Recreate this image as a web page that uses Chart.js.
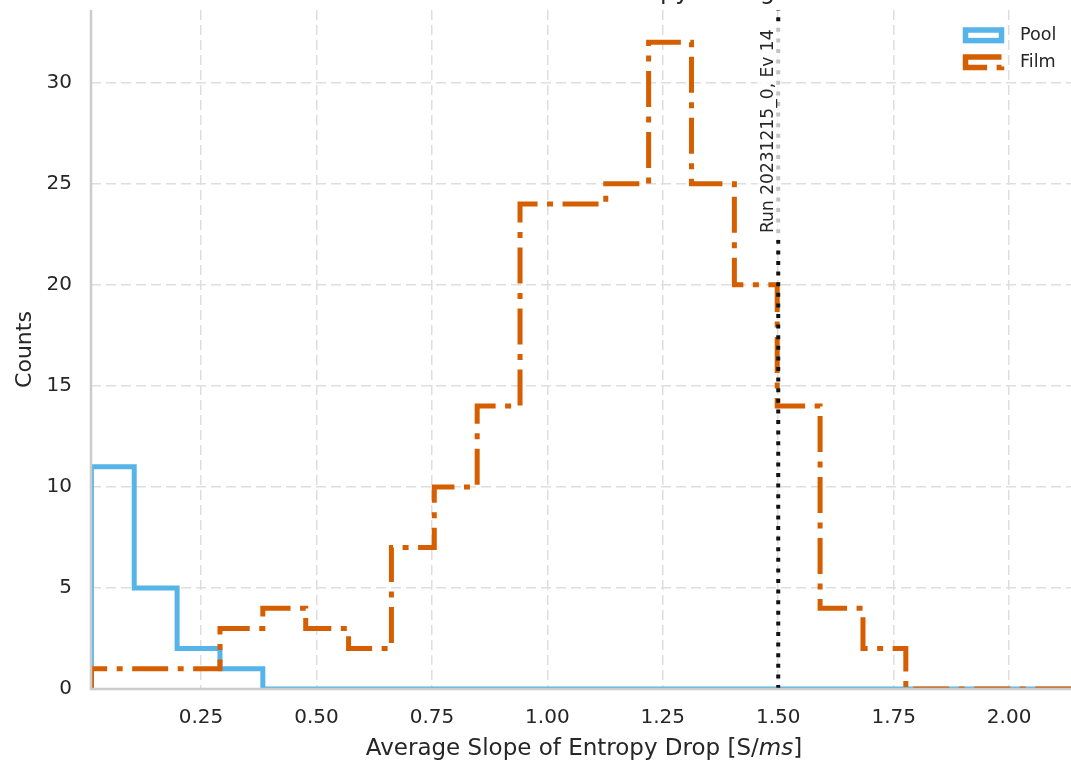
<!DOCTYPE html>
<html>
<head>
<meta charset="utf-8">
<script src="https://cdn.jsdelivr.net/npm/chart.js@4.4.1/dist/chart.umd.min.js"></script>
<style>
    html, body { margin: 0; padding: 0; background: #ffffff; }
    #wrap { width: 1071px; height: 763px; }
</style>
</head>
<body>
<div id="wrap"><canvas id="histChart" width="1071" height="763"></canvas></div>
<script>
/* ================== DATA ================== */
// bin edges (23 bins, last edge past the axis end)
const binEdges = [
    0.0125, 0.1053, 0.1982, 0.2910, 0.3838, 0.4767, 0.5695, 0.6623,
    0.7551, 0.8480, 0.9408, 1.0336, 1.1265, 1.2193, 1.3121, 1.4050,
    1.4978, 1.5906, 1.6835, 1.7763, 1.8691, 1.9620, 2.0548, 2.1476
];
const poolCounts = [11, 5, 2, 1, 0, 0, 0, 0, 0, 0, 0, 0, 0, 0, 0, 0, 0, 0, 0, 0, 0, 0, 0];
const filmCounts = [1, 1, 1, 3, 4, 3, 2, 7, 10, 14, 24, 24, 25, 32, 25, 20, 14, 4, 2, 0, 0, 0, 0];
const seriesNames = ["Pool", "Film"];
const xTicks = [0.25, 0.50, 0.75, 1.00, 1.25, 1.50, 1.75, 2.00];
const yTicks = [0, 5, 10, 15, 20, 25, 30];
const xRange = [0.0117, 2.134];
const yRange = [0, 33.6];
const markerX = 1.5;
const markerText = "Run 20231215_0, Ev 14";
const titleText = "Film vs Pool: Entropy Change";

/* ================== STYLE ================== */
const FONT = "'DejaVu Sans', 'Liberation Sans', sans-serif";
const TEXT = "#262626";
const POOL_COLOR = "#56B4E9";
const FILM_COLOR = "#D55E00";
const SPINE = "#cccccc";
const GRID = "#dedede";
const FILM_DASH = [36, 9.5, 6, 9.5];

// step outline like matplotlib histtype="step"
function stepPoints(counts) {
    const pts = [{ x: binEdges[0], y: 0 }];
    counts.forEach((c, i) => pts.push({ x: binEdges[i], y: c }));
    pts.push({ x: binEdges[counts.length], y: 0 });
    return pts;
}

/* ================== PLUGINS ================== */
const decorPlugin = {
    id: "decor",
    afterDatasetsDraw(chart) {
        const { ctx, chartArea: a, scales } = chart;
        const mx = scales.x.getPixelForValue(markerX);

        // marker line
        ctx.save();
        ctx.strokeStyle = "#111111";
        ctx.lineWidth = 4;
        ctx.setLineDash([4, 6.6]);
        ctx.beginPath();
        ctx.moveTo(mx, a.bottom);
        ctx.lineTo(mx, a.top);
        ctx.stroke();
        ctx.restore();

        // marker label with light box
        ctx.save();
        ctx.font = "17.1px " + FONT;
        const tw = ctx.measureText(markerText).width;
        const baseX = mx - 5;
        const startY = 233;
        ctx.fillStyle = "rgba(255,255,255,0.75)";
        ctx.fillRect(baseX - 16, startY - tw - 5, 24, tw + 12);
        ctx.translate(baseX, startY);
        ctx.rotate(-Math.PI / 2);
        ctx.fillStyle = TEXT;
        ctx.textAlign = "left";
        ctx.textBaseline = "alphabetic";
        ctx.fillText(markerText, 0, 0);
        ctx.restore();

        // spines on top of the lines
        ctx.save();
        ctx.strokeStyle = SPINE;
        ctx.lineWidth = 2.5;
        ctx.beginPath();
        ctx.moveTo(a.left, a.top);
        ctx.lineTo(a.left, a.bottom);
        ctx.lineTo(a.right, a.bottom);
        ctx.stroke();
        ctx.restore();
    },
    afterDraw(chart) {
        const { ctx, chartArea: a } = chart;
        ctx.save();

        // legend (patch handles)
        const items = [
            { name: seriesNames[0], color: POOL_COLOR, dash: [] },
            { name: seriesNames[1], color: FILM_COLOR, dash: FILM_DASH }
        ];
        items.forEach((it, i) => {
            const top = 30 + i * 27;
            ctx.strokeStyle = it.color;
            ctx.lineWidth = 5.5;
            ctx.setLineDash(it.dash);
            ctx.strokeRect(965.5, top, 36, 10.6);
            ctx.setLineDash([]);
            ctx.fillStyle = TEXT;
            ctx.font = "17.6px " + FONT;
            ctx.textAlign = "left";
            ctx.textBaseline = "middle";
            ctx.fillText(it.name, 1020, top + 5.5);
        });

        // x axis title with italic unit
        const parts = [
            { t: "Average Slope of Entropy Drop [S/", f: "23px " + FONT },
            { t: "ms", f: "italic 23px " + FONT },
            { t: "]", f: "23px " + FONT }
        ];
        let total = 0;
        parts.forEach(p => { ctx.font = p.f; p.w = ctx.measureText(p.t).width; total += p.w; });
        let x = (a.left + a.right) / 2 + 3 - total / 2;
        ctx.fillStyle = TEXT;
        ctx.textBaseline = "alphabetic";
        ctx.textAlign = "left";
        parts.forEach(p => { ctx.font = p.f; ctx.fillText(p.t, x, 755); x += p.w; });

        // title, mostly above the picture
        ctx.font = "24.2px " + FONT;
        const pre = ctx.measureText("Film vs Pool: Entro").width;
        ctx.fillText(titleText, 660 - pre, -1);

        ctx.restore();
    }
};

/* ================== CHART ================== */
function initChart() {
    new Chart(document.getElementById("histChart"), {
        type: "line",
        data: {
            datasets: [
                {
                    label: seriesNames[0],
                    data: stepPoints(poolCounts),
                    borderColor: POOL_COLOR,
                    borderWidth: 5,
                    stepped: "before",
                    pointRadius: 0,
                    fill: false,
                    clip: 0,
                    order: 1
                },
                {
                    label: seriesNames[1],
                    data: stepPoints(filmCounts),
                    borderColor: FILM_COLOR,
                    borderWidth: 5,
                    borderDash: FILM_DASH,
                    borderCapStyle: "butt",
                    stepped: "before",
                    pointRadius: 0,
                    fill: false,
                    clip: 0,
                    order: 0
                }
            ]
        },
        options: {
            responsive: false,
            animation: false,
            layout: { padding: { top: 10, right: 0, left: 0, bottom: 0 } },
            plugins: {
                legend: { display: false },
                tooltip: { enabled: false }
            },
            scales: {
                x: {
                    type: "linear",
                    min: xRange[0],
                    max: xRange[1],
                    afterBuildTicks: s => { s.ticks = xTicks.map(v => ({ value: v })); },
                    afterFit: s => { s.height = 74; s.paddingLeft = 0; s.paddingRight = 0; },
                    border: { display: false, dash: [10, 5] },
                    grid: { color: GRID, lineWidth: 1.5, drawTicks: false },
                    ticks: {
                        padding: 17,
                        color: TEXT,
                        font: { family: FONT, size: 20 },
                        callback: v => v.toFixed(2)
                    }
                },
                y: {
                    min: yRange[0],
                    max: yRange[1],
                    afterBuildTicks: s => { s.ticks = yTicks.map(v => ({ value: v })); },
                    afterFit: s => { s.width = 91; s.paddingTop = 0; s.paddingBottom = 0; },
                    border: { display: false, dash: [10, 5] },
                    grid: { color: GRID, lineWidth: 1.5, drawTicks: false },
                    title: {
                        display: true,
                        text: "Counts",
                        color: TEXT,
                        font: { family: FONT, size: 22 },
                        padding: { top: 12, bottom: 0 }
                    },
                    ticks: {
                        padding: 19,
                        color: TEXT,
                        font: { family: FONT, size: 20 }
                    }
                }
            }
        },
        plugins: [decorPlugin]
    });
}

window.addEventListener("load", initChart);
</script>
</body>
</html>
